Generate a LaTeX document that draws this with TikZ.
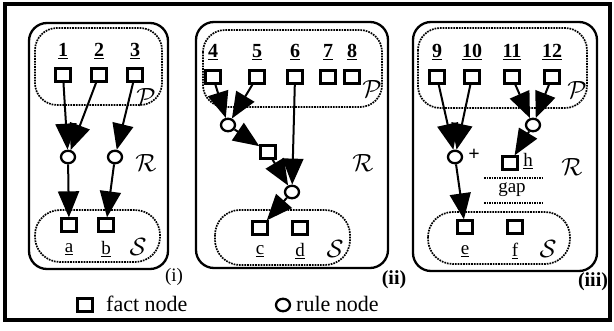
\documentclass[tikz,border=0pt]{standalone}
\usepackage{fontspec}
\setmainfont{Liberation Serif}
\usetikzlibrary{arrows.meta,shapes.geometric}
\begin{document}
\begin{tikzpicture}[x=1pt,y=-1pt,
  fact/.style={draw,line width=2.3pt,minimum width=15pt,minimum height=13pt,inner sep=0pt},
  rule/.style={draw,ellipse,line width=2.3pt,minimum width=14pt,minimum height=12.5pt,inner sep=0pt},
  num/.style={font=\fontsize{20}{20}\selectfont\bfseries,inner sep=0pt},
  let/.style={font=\fontsize{19}{19}\selectfont,inner sep=0pt},
  reg/.style={font=\fontsize{23}{23}\selectfont,inner sep=0pt},
  panel/.style={draw,line width=2.3pt,rounded corners=18pt},
  zone/.style={draw,densely dotted,line width=1.7pt,rounded corners=22pt},
  szone/.style={draw,densely dotted,line width=1.7pt,rounded corners=25pt},
  arr/.style={line width=2pt,-{Triangle[length=26pt,width=21pt]}},
  leg/.style={font=\fontsize{22}{22}\selectfont,inner sep=0pt,anchor=west}]
\useasboundingbox (0,0) rectangle (614,330);
\draw[line width=3.5pt] (5,4) rectangle (610,320);
% ---------- panel (i)
\draw[panel] (29,23) rectangle (168,269);
\draw[zone] (35,28) rectangle (162,105);
\draw[szone] (35,210) rectangle (160,262);
\node[fact] (f1) at (63,75) {};
\node[fact] (f2) at (99,75) {};
\node[fact] (f3) at (135,75) {};
\node[num] (l1) at (63,51) {\underline{1}};
\node[num] (l2) at (99,51) {\underline{2}};
\node[num] (l3) at (135,51) {\underline{3}};
\node[rule] (r1) at (68,157) {};
\node[rule] (r2) at (115,157) {};
\node[fact] (fa) at (69,225) {};
\node[fact] (fb) at (106,225) {};
\node[let] (la) at (69,249) {\underline{a}};
\node[let] (lb) at (106,249) {\underline{b}};
\node[reg] (p1) at (146,97) {$\mathcal{P}$};
\node[reg] (q1) at (146,163) {$\mathcal{R}$};
\node[reg] (s1) at (138,247) {$\mathcal{S}$};
\node[let] (i1) at (174,277) {(i)};
\draw[arr] (f1) -- (r1);
\draw[arr] (f2) -- (r1);
\draw[arr] (f3) -- (r2);
\draw[arr] (r1) -- (fa);
\draw[arr] (r2) -- (fb);
% ---------- panel (ii)
\draw[panel] (196,22) rectangle (388,268);
\draw[zone] (203,30) rectangle (382,107);
\draw[szone] (215,210) rectangle (350,265);
\node[fact] (f4) at (213,77) {};
\node[fact] (f5) at (257,77) {};
\node[fact] (f6) at (295,77) {};
\node[fact] (f7) at (328,77) {};
\node[fact] (f8) at (352,77) {};
\node[num] (l4) at (213,52) {\underline{4}};
\node[num] (l5) at (257,52) {\underline{5}};
\node[num] (l6) at (295,52) {\underline{6}};
\node[num] (l7) at (328,52) {\underline{7}};
\node[num] (l8) at (352,52) {\underline{8}};
\node[rule] (r3) at (228,125) {};
\node[fact] (fm) at (268,152) {};
\node[rule] (r4) at (292,192) {};
\node[fact] (fc) at (260,228) {};
\node[fact] (fd) at (300,228) {};
\node[let] (lc) at (260,251) {\underline{c}};
\node[let] (ld) at (300,251) {\underline{d}};
\node[reg] (p2) at (372,89) {$\mathcal{P}$};
\node[reg] (q2) at (363,163) {$\mathcal{R}$};
\node[reg] (s2) at (335,249) {$\mathcal{S}$};
\node[num] (i2) at (394,280) {(ii)};
\draw[arr] (f4) -- (r3);
\draw[arr] (f5) -- (r3);
\draw[arr] (r3) -- (fm);
\draw[arr] (fm) -- (r4);
\draw[arr] (f6) -- (r4);
\draw[arr] (r4) -- (fc);
% ---------- panel (iii)
\draw[panel] (413,22) rectangle (597,271);
\draw[zone] (418,28) rectangle (587,108);
\draw[szone] (428,212) rectangle (570,264);
\node[fact] (f9) at (437,77) {};
\node[fact] (f10) at (472,77) {};
\node[fact] (f11) at (512,77) {};
\node[fact] (f12) at (552,77) {};
\node[num] (l9) at (437,52) {\underline{9}};
\node[num] (l10) at (472,52) {\underline{10}};
\node[num] (l11) at (512,52) {\underline{11}};
\node[num] (l12) at (552,52) {\underline{12}};
\node[rule] (r5) at (455,157) {};
\node[num] (plus) at (474,155) {+};
\node[rule] (r6) at (533,125) {};
\node[fact] (fh) at (510,163) {};
\node[let] (lh) at (528,161) {\underline{h}};
\node[let] (gap) at (512,190) {gap};
\coordinate (g1) at (484,178);
\coordinate (g2) at (542,178);
\coordinate (g3) at (484,203);
\coordinate (g4) at (542,203);
\draw[densely dotted,line width=1.5pt] (g1) -- (g2);
\draw[densely dotted,line width=1.5pt] (g3) -- (g4);
\node[fact] (fe) at (465,227) {};
\node[fact] (ff) at (515,227) {};
\node[let] (le) at (465,251) {\underline{e}};
\node[let] (lf) at (515,251) {\underline{f}};
\node[reg] (p3) at (577,90) {$\mathcal{P}$};
\node[reg] (q3) at (572,167) {$\mathcal{R}$};
\node[reg] (s3) at (548,249) {$\mathcal{S}$};
\node[num] (i3) at (593,282) {(iii)};
\draw[arr] (f9) -- (r5);
\draw[arr] (f10) -- (r5);
\draw[arr] (f11) -- (r6);
\draw[arr] (f12) -- (r6);
\draw[arr] (r6) -- (fh);
\draw[arr] (r5) -- (fe);
% ---------- legend
\node[fact] (lgf) at (85,305) {};
\node[leg] (lgft) at (106,304) {fact node};
\node[rule] (lgr) at (283,305) {};
\node[leg] (lgrt) at (296,304) {rule node};
\end{tikzpicture}
\end{document}
